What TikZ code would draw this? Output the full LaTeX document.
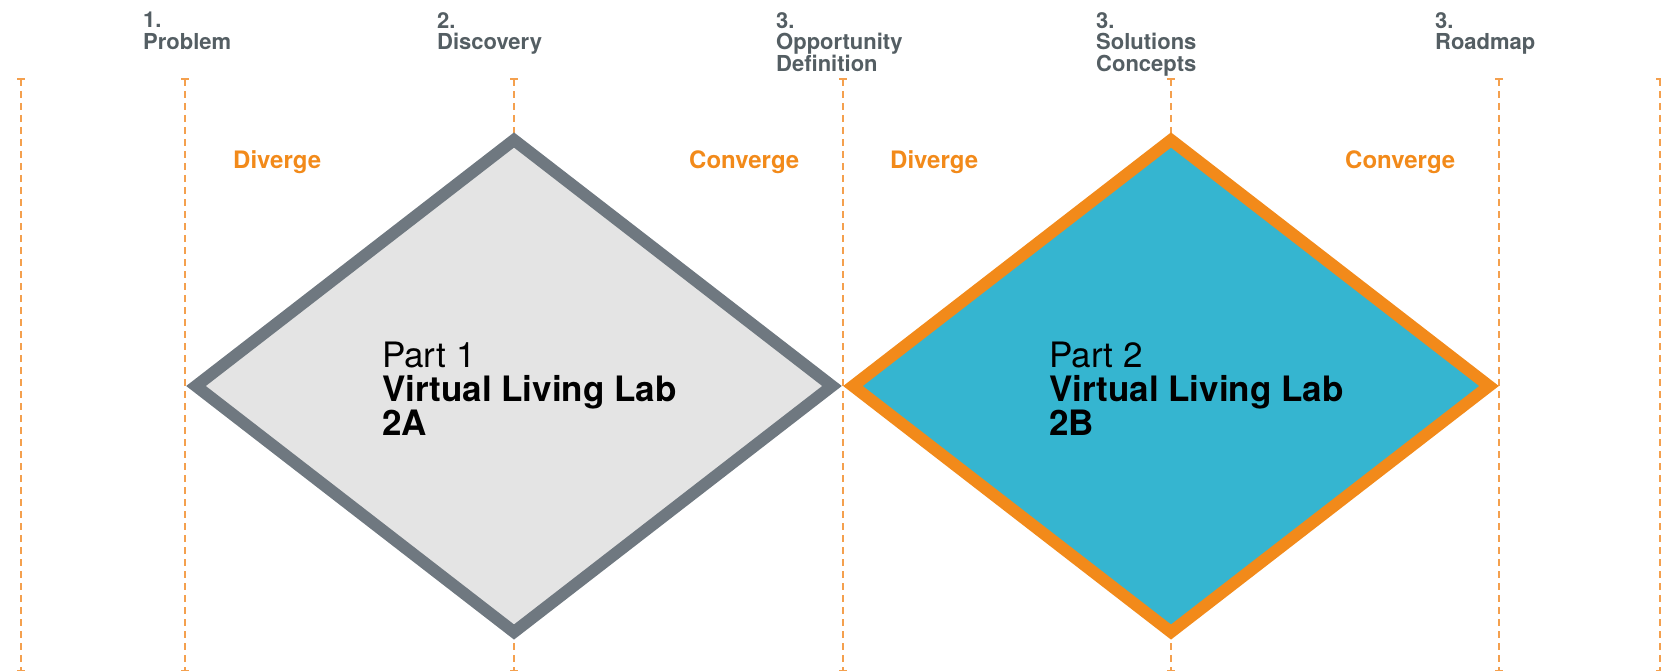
\documentclass[tikz,border=0pt]{standalone}
\usepackage{fontspec}
\setmainfont{TeX Gyre Heros}
\definecolor{labgray}{RGB}{111,120,128}
\definecolor{labfill}{RGB}{228,228,228}
\definecolor{laborange}{RGB}{242,138,26}
\definecolor{labteal}{RGB}{53,181,208}
\definecolor{stepgray}{RGB}{84,94,99}
\definecolor{guideorange}{RGB}{244,160,78}

\begin{document}
\begin{tikzpicture}
	[x=1pt,y=-1pt,
	guide/.style={draw=guideorange,line width=1.6pt,dash pattern=on 7pt off 5pt},
	guidetick/.style={draw=guideorange,line width=1.8pt},
	stage/.style={anchor=north west,inner sep=0pt,align=left,text=stepgray,
		font=\fontsize{22}{21.5}\selectfont\bfseries},
	motion/.style={anchor=base west,inner sep=0pt,text=laborange,
		font=\fontsize{24}{24}\selectfont\bfseries},
	part/.style={anchor=north west,inner sep=0pt,align=left,text=black,
		font=\fontsize{35}{34}\selectfont},
	labA/.style={draw=labgray,fill=labfill,line width=12pt},
	labB/.style={draw=laborange,fill=labteal,line width=12pt}]

	\useasboundingbox (0,0) rectangle (1661,671);

	% phase lines
	\foreach \x/\n in {21/edge,185/problem,514/discovery,843/opportunity,1171/solutions,1499/roadmap,1660/end} {
		\coordinate (top-\n) at (\x,79);
		\coordinate (bot-\n) at (\x,671);
		\draw[guide] (top-\n) -- (bot-\n);
		\draw[guidetick] ([xshift=-4pt]top-\n) -- ([xshift=4pt]top-\n);
		\draw[guidetick] ([xshift=-4pt]bot-\n) -- ([xshift=4pt]bot-\n);
	}

	% diamonds
	\coordinate (lab1) at (514,386);
	\coordinate (lab2) at (1171,386);
	\draw[labA] (lab1) ++(-318,0) -- ++(318,-246) -- ++(318,246) -- ++(-318,246) -- cycle;
	\draw[labB] (lab2) ++(-318,0) -- ++(318,-246) -- ++(318,246) -- ++(-318,246) -- cycle;

	\node[stage] (problem) at (143,12) {1.\\Problem};
	\node[stage] (discovery) at (437,12) {2.\\Discovery};
	\node[stage] (opportunity) at (776,12) {3.\\Opportunity\\Definition};
	\node[stage] (solutions) at (1096,12) {3.\\Solutions\\Concepts};
	\node[stage] (roadmap) at (1435,12) {3.\\Roadmap};

	\node[motion] (diverge1) at (233,169) {Diverge};
	\node[motion] (converge1) at (689,169) {Converge};
	\node[motion] (diverge2) at (890,169) {Diverge};
	\node[motion] (converge2) at (1345,169) {Converge};

	\node[part] (part1) at (382,342) {Part 1\\\textbf{Virtual Living Lab}\\\textbf{2A}};
	\node[part] (part2) at (1049,342) {Part 2\\\textbf{Virtual Living Lab}\\\textbf{2B}};

\end{tikzpicture}
\end{document}
